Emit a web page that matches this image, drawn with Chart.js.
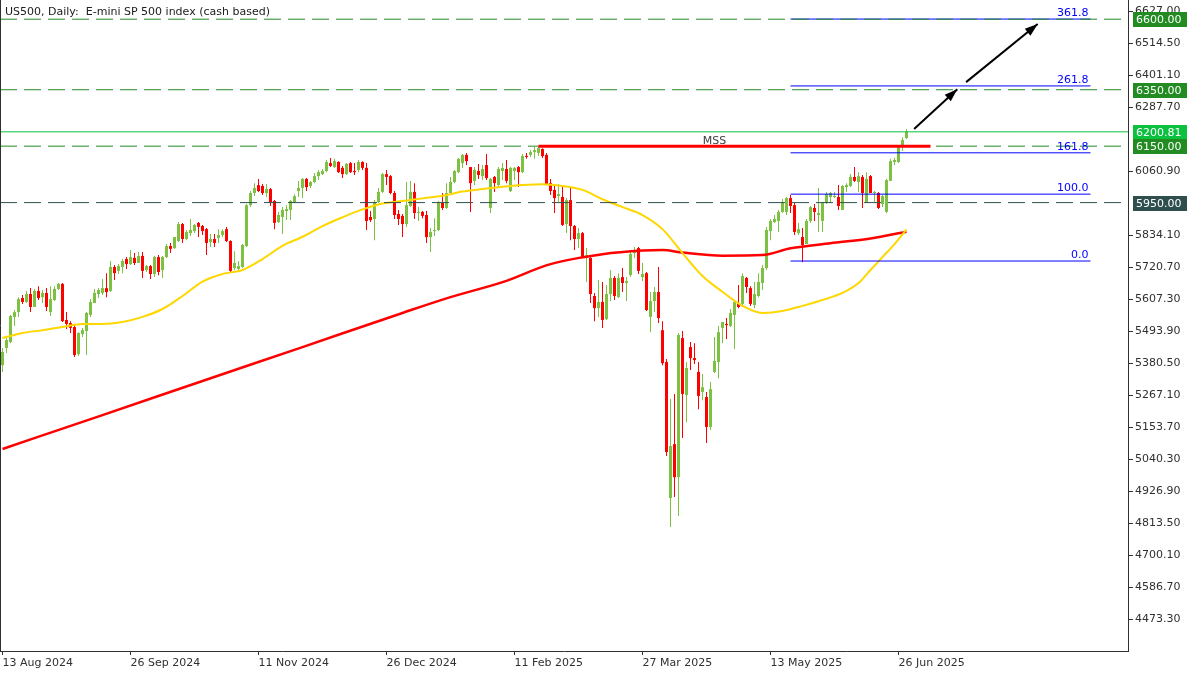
<!DOCTYPE html>
<html>
<head>
<meta charset="utf-8">
<title>US500, Daily</title>
<script src="https://cdn.jsdelivr.net/npm/chart.js@4.4.1/dist/chart.umd.min.js"></script>
<style>
  html, body { margin: 0; padding: 0; background: #fff; }
  #chart { display: block; }
</style>
</head>
<body>
<canvas id="chart" width="1200" height="675"></canvas>
<script>
// Daily candles, one per trading day starting 13 Aug 2024
const opens = [5374,5435,5456,5545,5562,5612,5598,5626,5580,5637,
  5615,5630,5562,5605,5644,5662,5534,5523,5509,5413,
  5484,5495,5552,5594,5626,5630,5647,5637,5722,5708,
  5722,5750,5732,5754,5736,5761,5711,5725,5697,5757,
  5711,5757,5796,5789,5814,5874,5821,5842,5849,5878,
  5867,5856,5810,5821,5825,5835,5856,5814,5718,5715,
  5722,5796,5941,5984,6012,6009,5984,5998,5956,5881,
  5899,5920,5924,5952,5991,6002,6034,6009,6023,6044,
  6051,6062,6090,6076,6094,6073,6051,6090,6062,6066,
  6094,6073,5899,5892,5952,5988,6051,6044,5984,5910,
  5903,5874,5938,5988,5913,5917,5906,5828,5849,5853,
  5949,5931,5984,6023,6058,6090,6119,6076,6027,6062,
  6044,6083,5931,6041,6012,6062,6069,5991,6062,6076,
  6058,6115,6119,6129,6126,6140,6119,6019,5995,5973,
  5970,5874,5959,5867,5821,5842,5754,5754,5619,5576,
  5598,5537,5626,5683,5615,5686,5665,5693,5771,5789,
  5686,5700,5545,5601,5633,5498,5385,4903,5094,4977,
  5470,5268,5438,5399,5350,5279,5261,5155,5350,5385,
  5506,5520,5513,5552,5594,5591,5683,5647,5587,5619,
  5665,5718,5849,5881,5885,5917,5917,5966,5941,5842,
  5828,5803,5885,5931,5906,5885,5949,5970,5970,5970,
  5924,6005,6009,6041,6023,6041,5949,6044,5984,5984,
  5945,5917,6027,6094,6094,6147,6179];
const highs = [5435,5474,5552,5569,5615,5623,5637,5647,5644,5654,
  5640,5647,5654,5654,5665,5665,5562,5530,5516,5491,
  5506,5562,5608,5644,5647,5679,5700,5743,5729,5732,
  5750,5757,5782,5771,5775,5775,5729,5729,5761,5764,
  5761,5803,5807,5828,5881,5878,5853,5892,5874,5881,
  5871,5860,5839,5839,5856,5856,5864,5817,5778,5743,
  5803,5945,5991,6019,6034,6016,6016,6002,5959,5917,
  5934,5941,5959,5980,6027,6037,6037,6027,6055,6066,
  6069,6101,6108,6105,6097,6080,6090,6094,6090,6101,
  6097,6090,5920,5959,6002,6055,6066,6048,5991,5924,
  5910,6023,6027,6019,5934,5920,5920,5860,5895,5956,
  5984,6019,6041,6066,6108,6122,6126,6076,6076,6087,
  6083,6122,6037,6044,6076,6090,6101,6076,6076,6080,
  6122,6126,6136,6147,6147,6143,6126,6034,6012,6016,
  6005,5966,6002,5871,5860,5846,5789,5757,5630,5676,
  5669,5658,5711,5690,5700,5718,5686,5778,5793,5793,
  5736,5704,5633,5651,5722,5530,5396,5254,5272,5488,
  5495,5385,5456,5452,5385,5343,5279,5314,5474,5513,
  5527,5541,5573,5605,5658,5700,5686,5654,5669,5700,
  5729,5864,5892,5906,5924,5963,5970,5977,5949,5878,
  5860,5892,5938,5945,6002,5952,5988,5988,5988,6012,
  6012,6019,6051,6076,6058,6048,6058,6048,5991,5988,
  5977,6034,6105,6108,6151,6182,6211];
const lows = [5350,5417,5452,5513,5545,5591,5594,5562,5580,5605,
  5594,5566,5548,5601,5640,5527,5502,5488,5403,5406,
  5474,5410,5545,5594,5612,5623,5615,5633,5676,5697,
  5700,5715,5729,5729,5736,5683,5704,5679,5686,5693,
  5683,5754,5771,5786,5810,5807,5817,5832,5842,5828,
  5835,5764,5793,5793,5807,5828,5810,5704,5711,5711,
  5718,5793,5934,5973,5988,5977,5970,5938,5856,5878,
  5839,5888,5888,5949,5970,5966,5991,6002,6019,6030,
  6048,6058,6076,6073,6055,6037,6048,6055,6048,6058,
  6066,5853,5881,5817,5949,5984,6012,5980,5892,5871,
  5828,5864,5934,5892,5885,5895,5807,5775,5832,5849,
  5924,5927,5984,6019,6055,6073,6083,5917,6012,6034,
  6030,6030,5913,5988,6005,6030,6019,5988,6030,6005,
  6055,6105,6112,6105,6115,6108,6012,5977,5913,5952,
  5867,5842,5817,5782,5789,5754,5669,5594,5530,5545,
  5506,5534,5601,5605,5612,5633,5601,5686,5754,5697,
  5672,5566,5491,5562,5523,5374,5052,4800,4907,4839,
  5116,5172,5357,5378,5218,5250,5098,5144,5346,5328,
  5452,5467,5509,5431,5576,5580,5630,5584,5576,5615,
  5640,5711,5817,5878,5846,5913,5906,5913,5835,5835,
  5739,5803,5878,5885,5846,5846,5945,5949,5966,5924,
  5924,5988,6005,6023,5988,5931,5949,5984,5952,5927,
  5934,5913,6027,6083,6090,6133,6175];
const closes = [5421,5463,5548,5562,5608,5598,5626,5580,5637,5612,
  5630,5580,5608,5644,5662,5530,5520,5506,5410,5488,
  5498,5559,5598,5630,5640,5647,5633,5722,5700,5725,
  5743,5732,5757,5736,5761,5708,5725,5697,5757,5704,
  5757,5796,5786,5828,5874,5821,5846,5853,5871,5864,
  5849,5807,5821,5807,5835,5849,5814,5708,5736,5725,
  5800,5941,5984,6002,5991,5984,5998,5952,5878,5906,
  5924,5927,5956,5973,6002,6034,6005,6023,6044,6058,
  6062,6094,6080,6097,6058,6051,6087,6058,6058,6094,
  6073,5885,5888,5952,5988,6051,6041,5984,5906,5892,
  5874,5941,5988,5913,5917,5903,5828,5846,5853,5952,
  5931,5984,6023,6062,6105,6119,6097,6019,6066,6048,
  6069,6037,6034,6019,6069,6073,6027,6073,6073,6058,
  6115,6112,6129,6136,6143,6115,6016,5991,5966,5980,
  5871,5959,5867,5821,5842,5757,5764,5626,5576,5598,
  5534,5626,5683,5619,5683,5665,5672,5768,5782,5708,
  5697,5569,5601,5633,5541,5381,5066,5087,4977,5481,
  5272,5364,5399,5392,5265,5296,5155,5289,5389,5491,
  5527,5516,5559,5598,5580,5690,5651,5591,5626,5669,
  5718,5853,5885,5892,5917,5952,5966,5938,5846,5856,
  5800,5885,5934,5917,5913,5949,5980,5984,5973,5938,
  6009,6012,6041,6027,6044,5984,6034,5984,5988,5931,
  5973,6030,6097,6101,6147,6172,6200.81];

// moving averages, read at a few bar positions
const ma50Idx = [0,5,10,15,20,25,30,35,40,45,50,55,60,65,70,75,80,85,90,95,100,105,110,115,120,125,130,135,140,145,150,155,160,165,170,175,180,185,190,195,200,205,210,214,217,220,223,226];
const ma50Vals = [5470,5488,5498,5509,5520,5520,5527,5545,5573,5619,5670,5697,5711,5750,5797,5829,5867,5898,5926,5947,5956,5965,5974,5989,5998,6006,6012,6015,6009,5995,5962,5934,5906,5856,5771,5690,5634,5584,5559,5566,5584,5605,5630,5665,5711,5757,5803,5855];
const ma200Idx = [0,25,50,75,100,112,125,137,150,160,165,170,180,190,197,207,217,226];
const ma200Vals = [5077,5197,5318,5438,5559,5615,5668,5732,5767,5780,5782,5773,5762,5764,5788,5806,5823,5847];

// axes
const xTickIdx = [0,32,64,96,128,160,192,224];
const xTickLabels = ['13 Aug 2024','26 Sep 2024','11 Nov 2024','26 Dec 2024','11 Feb 2025','27 Mar 2025','13 May 2025','26 Jun 2025'];
const yTickValues = [6627.00,6514.50,6401.10,6287.70,6060.90,5834.10,5720.70,5607.30,5493.90,5380.50,5267.10,5153.70,5040.30,4926.90,4813.50,4700.10,4586.70,4473.30];

// drawn levels
const levelPrices = [6600, 6350, 6150, 5950];
const lastPrice = 6200.81;
const fibLevels = [0, 100, 161.8, 261.8, 361.8];
const fibLow = 5743, fibHigh = 5980;
const fibFrom = 197, fibTo = 272;
const mssPrice = 6150, mssFrom = 134, mssTo = 232;
const arrowFrom = [[227.9, 6211], [240.9, 6377]];
const arrowTo = [[238.7, 6352], [258.8, 6583]];
const tagPrices = [6600, 6350, lastPrice, 6150, 5950];

// styles
const UP = '#7DC142', DOWN = '#FF0000';
const FONT = 'DejaVu Sans';
const TEXT = '#303030';
const X_MIN = -0.625, X_MAX = 281.375;
const levelColors = ['#228B22', '#228B22', '#228B22', '#2F4F4F'];
const tagColors = ['#228B22', '#228B22', '#0CC040', '#228B22', '#2F4F4F'];

Chart.defaults.font.family = FONT;
Chart.defaults.font.size = 11;
Chart.defaults.color = TEXT;

const bars = closes.map((c, i) => i);
const candleColors = bars.map(i => closes[i] >= opens[i] ? UP : DOWN);

function hLine(y, from, to, color, width, dash, order) {
  return {
    type: 'line', data: [{x: from, y: y}, {x: to, y: y}],
    borderColor: color, borderWidth: width, borderDash: dash || [],
    pointRadius: 0, order: order
  };
}

const datasets = [
  { type: 'bar', label: 'wick', data: bars.map(i => ({x: i, y: [lows[i], highs[i]]})),
    backgroundColor: candleColors, barThickness: 1, grouped: false, inflateAmount: 0, order: 10 },
  { type: 'bar', label: 'body', data: bars.map(i => ({x: i, y: [opens[i], closes[i]]})),
    backgroundColor: candleColors, barThickness: 3, grouped: false, inflateAmount: 0, minBarLength: 1, order: 9 },
  { type: 'line', label: 'MA200', data: ma200Idx.map((x, k) => ({x: x, y: ma200Vals[k]})),
    borderColor: '#FF0000', borderWidth: 2.5, pointRadius: 0, cubicInterpolationMode: 'monotone', order: 6 },
  { type: 'line', label: 'MA50', data: ma50Idx.map((x, k) => ({x: x, y: ma50Vals[k]})),
    borderColor: '#FFD700', borderWidth: 2, pointRadius: 0, cubicInterpolationMode: 'monotone', order: 5 }
];
fibLevels.forEach(l => {
  datasets.push(hLine(fibLow + (fibHigh - fibLow) * l / 100, fibFrom, fibTo, '#0000FF', 1, null, 4));
});
levelPrices.forEach((p, k) => datasets.push(hLine(p, X_MIN, X_MAX, levelColors[k], 1, [17, 7], 3)));
datasets.push(hLine(lastPrice, X_MIN, X_MAX, '#0CC040', 1, null, 3));
datasets.push(hLine(mssPrice, mssFrom, mssTo, '#FF0000', 3, null, 2));
arrowFrom.forEach((a, k) => {
  datasets.push({ type: 'line', data: [{x: a[0], y: a[1]}, {x: arrowTo[k][0], y: arrowTo[k][1]}],
    borderColor: '#000', borderWidth: 2, pointRadius: 0, order: 1 });
});

const overlay = {
  id: 'overlay',
  afterDatasetsDraw(chart) {
    const ctx = chart.ctx, x = chart.scales.x, y = chart.scales.y;
    ctx.save();
    // arrow heads
    ctx.fillStyle = '#000';
    arrowFrom.forEach((a, k) => {
      const x1 = x.getPixelForValue(a[0]), y1 = y.getPixelForValue(a[1]);
      const x2 = x.getPixelForValue(arrowTo[k][0]), y2 = y.getPixelForValue(arrowTo[k][1]);
      const ang = Math.atan2(y2 - y1, x2 - x1);
      const c = Math.cos(ang), s = Math.sin(ang);
      ctx.beginPath();
      ctx.moveTo(x2, y2);
      ctx.lineTo(x2 - 13 * c + 4.5 * s, y2 - 13 * s - 4.5 * c);
      ctx.lineTo(x2 - 13 * c - 4.5 * s, y2 - 13 * s + 4.5 * c);
      ctx.closePath();
      ctx.fill();
    });
    // fib level labels
    ctx.font = '11px "' + FONT + '"';
    ctx.fillStyle = '#0000FF';
    ctx.textAlign = 'right';
    ctx.textBaseline = 'alphabetic';
    fibLevels.forEach(l => {
      const p = fibLow + (fibHigh - fibLow) * l / 100;
      ctx.fillText(l.toFixed(1), x.getPixelForValue(fibTo) - 2, y.getPixelForValue(p) - 3);
    });
    // MSS label
    ctx.fillStyle = '#404040';
    ctx.textAlign = 'center';
    ctx.fillText('MSS', x.getPixelForValue((mssFrom + mssTo) / 2 - 5), y.getPixelForValue(mssPrice) - 2);
    // title
    ctx.fillStyle = '#202020';
    ctx.textAlign = 'left';
    ctx.fillText('US500, Daily:  E-mini SP 500 index (cash based)', 5, 15);
    // left frame
    ctx.strokeStyle = '#303030';
    ctx.lineWidth = 1;
    ctx.beginPath();
    ctx.moveTo(0.5, 0);
    ctx.lineTo(0.5, chart.chartArea.bottom);
    ctx.stroke();
    ctx.restore();
  },
  afterDraw(chart) {
    const ctx = chart.ctx, y = chart.scales.y;
    const left = chart.chartArea.right + 5;
    ctx.save();
    ctx.font = '11px "' + FONT + '"';
    ctx.textAlign = 'left';
    ctx.textBaseline = 'middle';
    tagPrices.forEach((p, k) => {
      const py = Math.round(y.getPixelForValue(p));
      ctx.fillStyle = tagColors[k];
      ctx.fillRect(left, py - 7, 54, 15);
      ctx.fillStyle = '#fff';
      ctx.fillText(p.toFixed(2), left + 3, py + 1);
    });
    ctx.restore();
  }
};

new Chart(document.getElementById('chart'), {
  type: 'bar',
  data: { datasets: datasets },
  options: {
    responsive: false,
    animation: false,
    events: [],
    layout: { padding: 0 },
    plugins: { legend: { display: false }, tooltip: { enabled: false } },
    scales: {
      x: {
        type: 'linear', min: X_MIN, max: X_MAX, offset: false,
        grid: { drawOnChartArea: false, tickLength: 4, color: '#303030', offset: false },
        border: { color: '#303030' },
        ticks: {
          autoSkip: false, maxRotation: 0, align: 'start', padding: 2, color: TEXT,
          callback: v => xTickLabels[xTickIdx.indexOf(v)]
        },
        afterBuildTicks: s => { s.ticks = xTickIdx.map(v => ({value: v})); },
        afterFit: s => { s.height = 24; s.paddingLeft = 0; s.paddingRight = 0; }
      },
      y: {
        type: 'linear', position: 'right', min: 4361, max: 6668,
        grid: { drawOnChartArea: false, tickLength: 5, color: '#303030' },
        border: { color: '#303030' },
        ticks: { padding: 2, color: TEXT, callback: v => v.toFixed(2) },
        afterBuildTicks: s => { s.ticks = yTickValues.map(v => ({value: v})); },
        afterFit: s => { s.width = 72; s.paddingTop = 0; s.paddingBottom = 0; }
      }
    }
  },
  plugins: [overlay]
});
</script>
</body>
</html>
